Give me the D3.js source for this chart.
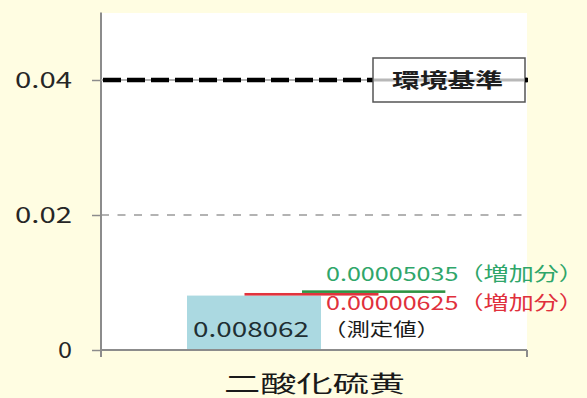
<!DOCTYPE html>
<html>
<head>
<meta charset="utf-8">
<script src="https://cdn.jsdelivr.net/npm/d3@7"></script>
<style>
  html, body { margin: 0; padding: 0; background: #fffde2; }
  svg { display: block; }
  text { font-family: "Noto Sans CJK JP", "Liberation Sans", sans-serif; }
</style>
</head>
<body>
<svg id="chart" width="587" height="398"></svg>
<script>
// Category and series
const categories = ["二酸化硫黄"];
const seriesNames = ["測定値", "増加分1", "増加分2"];
const measured = [0.008062];
const increaseRed = [0.00000625];
const increaseGreen = [0.00005035];
const standardValue = 0.04;
const standardLabel = "環境基準";
const yTicks = [0, 0.02, 0.04];
const yMax = 0.05;

const svg = d3.select("#chart");
const plot = { left: 101, right: 527, top: 12.5, bottom: 350 };

const y = d3.scaleLinear().domain([0, yMax]).range([plot.bottom, plot.top]);
const x = d3.scaleBand().domain(categories).range([plot.left, plot.right]);
// series sit side by side, each overlapping the next
const inner = d3.scaleBand().domain(seriesNames).range([187, 187 + 3 * 57.5]);
const markW = inner.step() * 2.33;

// plot background
svg.append("rect")
  .attr("x", plot.left).attr("y", 13)
  .attr("width", plot.right - plot.left).attr("height", plot.bottom - 13)
  .attr("fill", "#ffffff");

// 0.02 gridline
svg.append("line")
  .attr("x1", plot.left).attr("x2", plot.right)
  .attr("y1", y(0.02)).attr("y2", y(0.02))
  .attr("stroke", "#9a9a9a").attr("stroke-width", 1.5)
  .attr("stroke-dasharray", "8,8.5");

// y axis
const yAxis = d3.axisLeft(y).tickValues(yTicks).tickSize(9).tickPadding(20)
  .tickFormat(d => d === 0 ? "0" : d3.format(".2f")(d));
const gy = svg.append("g").attr("transform", `translate(${plot.left},0)`).call(yAxis);
gy.select(".domain").remove();
gy.selectAll(".tick line").attr("stroke", "#8c8c8c").attr("stroke-width", 1.5);
gy.selectAll(".tick text")
  .attr("fill", "#262626").attr("font-size", 22)
  .attr("dy", "0.36em")
  .attr("textLength", d => d === 0 ? 14 : 57)
  .attr("lengthAdjust", "spacingAndGlyphs");
svg.append("line")
  .attr("x1", plot.left).attr("x2", plot.left)
  .attr("y1", plot.top).attr("y2", plot.bottom + 7)
  .attr("stroke", "#8c8c8c").attr("stroke-width", 2);

// measured bar
measured.forEach((v, i) => {
  svg.append("rect")
    .attr("x", inner(seriesNames[0])).attr("y", y(v))
    .attr("width", markW).attr("height", y(0) - y(v))
    .attr("fill", "#abd9e1");
});

// increases stacked on top of the measured value, drawn as thin bands
const incThick = 2.6;
increaseRed.forEach((v, i) => {
  const base = measured[i];
  const b = y(base);
  const t = Math.min(y(base + v), b - incThick);
  svg.append("rect").attr("class", "inc-red")
    .attr("x", inner(seriesNames[1])).attr("y", t)
    .attr("width", markW).attr("height", b - t)
    .attr("fill", "#e2333d");
});
increaseGreen.forEach((v, i) => {
  const base = measured[i] + increaseRed[i];
  const b = y(base) - incThick;
  const t = Math.min(y(base + v) - incThick, b - incThick);
  svg.append("rect").attr("class", "inc-green")
    .attr("x", inner(seriesNames[2])).attr("y", t)
    .attr("width", markW * 1.07).attr("height", b - t)
    .attr("fill", "#2f9444");
});

// x axis
svg.append("line")
  .attr("x1", plot.left).attr("x2", plot.right)
  .attr("y1", y(0)).attr("y2", y(0))
  .attr("stroke", "#8c8c8c").attr("stroke-width", 2);
[plot.left, plot.right].forEach(px => {
  svg.append("line")
    .attr("x1", px).attr("x2", px)
    .attr("y1", y(0)).attr("y2", y(0) + 7)
    .attr("stroke", "#8c8c8c").attr("stroke-width", 2);
});
svg.append("text")
  .attr("x", x(categories[0]) + x.bandwidth() / 2 - 90).attr("y", 384)
  .attr("dy", "0.35em")
  .attr("font-size", 23).attr("fill", "#1a1a1a")
  .attr("textLength", 181).attr("lengthAdjust", "spacingAndGlyphs")
  .text(categories[0]);

// environmental standard line
const ys = y(standardValue);
svg.append("line")
  .attr("x1", plot.left).attr("x2", plot.right)
  .attr("y1", ys).attr("y2", ys)
  .attr("stroke", "#b0b0b0").attr("stroke-width", 2);
svg.append("line")
  .attr("x1", plot.left + 2).attr("x2", plot.right)
  .attr("y1", ys).attr("y2", ys)
  .attr("stroke", "#000").attr("stroke-width", 4.5)
  .attr("stroke-dasharray", "18,6");

// label box for the standard
const box = { x: 373, y: 58, w: 152, h: 44 };
svg.append("rect")
  .attr("x", box.x).attr("y", box.y).attr("width", box.w).attr("height", box.h)
  .attr("fill", "#ffffff").attr("stroke", "#555").attr("stroke-width", 1.5);
svg.append("line")
  .attr("x1", box.x + 1).attr("x2", box.x + box.w - 1)
  .attr("y1", ys).attr("y2", ys)
  .attr("stroke", "#b8b8b8").attr("stroke-width", 3);
svg.append("line")
  .attr("x1", box.x + box.w).attr("x2", plot.right + 1)
  .attr("y1", ys).attr("y2", ys)
  .attr("stroke", "#000").attr("stroke-width", 4.5);
svg.append("text")
  .attr("x", 392).attr("y", ys + 1).attr("dy", "0.35em")
  .attr("font-size", 20).attr("font-weight", "bold").attr("fill", "#1e1e1e")
  .attr("textLength", 111).attr("lengthAdjust", "spacingAndGlyphs")
  .text(standardLabel);

// value labels
svg.append("text")
  .attr("x", 193).attr("y", 330).attr("dy", "0.35em")
  .attr("font-size", 21).attr("fill", "#1f2f33")
  .attr("textLength", 116).attr("lengthAdjust", "spacingAndGlyphs")
  .text(String(measured[0]));
svg.append("text")
  .attr("x", 323).attr("y", 330).attr("dy", "0.35em")
  .attr("font-size", 18).attr("fill", "#1a1a1a")
  .attr("textLength", 117).attr("lengthAdjust", "spacingAndGlyphs")
  .text("（" + seriesNames[0] + "）");
svg.append("text")
  .attr("x", 326).attr("y", 274).attr("dy", "0.35em")
  .attr("font-size", 19).attr("fill", "#2fa66a")
  .attr("textLength", 258).attr("lengthAdjust", "spacingAndGlyphs")
  .text(increaseGreen[0].toFixed(8) + "（増加分）");
svg.append("text")
  .attr("x", 326).attr("y", 303).attr("dy", "0.35em")
  .attr("font-size", 19).attr("fill", "#e0303c")
  .attr("textLength", 258).attr("lengthAdjust", "spacingAndGlyphs")
  .text(increaseRed[0].toFixed(8) + "（増加分）");
</script>
</body>
</html>
